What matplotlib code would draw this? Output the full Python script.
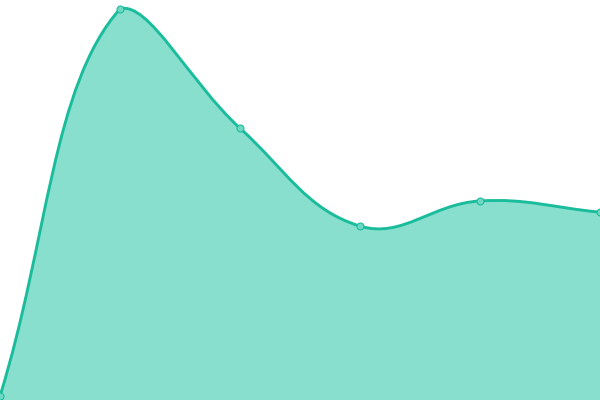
# Smooth turquoise area chart, no axes
import numpy as np
import matplotlib.pyplot as plt
from matplotlib.path import Path
from matplotlib.patches import PathPatch

labels = ['A', 'B', 'C', 'D', 'E', 'F']
values = [0, 100, 69.2, 43.9, 50.4, 47.5]

line_col = '#1abc9c'
fill_col = '#88dfce'
tension = 0.4

fig = plt.figure(figsize=(6, 4), dpi=100)
ax = fig.add_axes([0, 0, 1, 1])
ax.set_xlim(0, len(values) - 1)
ax.set_ylim(-4 * 100 / 387, 100 + 9 * 100 / 387)
ax.axis('off')

# spline control points (chart.js style), worked out in pixel space
pts = ax.transData.transform(np.column_stack([np.arange(len(values)), values]))
x0, y0 = ax.transData.transform((0, ax.get_ylim()[0]))
x1, y1 = ax.transData.transform((len(values) - 1, ax.get_ylim()[1]))
cps = []
for i in range(len(pts)):
    prev = pts[i - 1] if i > 0 else pts[i]
    cur = pts[i]
    nxt = pts[i + 1] if i < len(pts) - 1 else pts[i]
    d01 = np.hypot(*(cur - prev))
    d12 = np.hypot(*(nxt - cur))
    tot = d01 + d12
    s01 = d01 / tot if tot else 0
    s12 = d12 / tot if tot else 0
    cp_prev = cur - tension * s01 * (nxt - prev)
    cp_next = cur + tension * s12 * (nxt - prev)
    cp_prev = np.clip(cp_prev, [x0, y0], [x1, y1])
    cp_next = np.clip(cp_next, [x0, y0], [x1, y1])
    cps.append((cp_prev, cp_next))

verts = [pts[0]]
codes = [Path.MOVETO]
for i in range(1, len(pts)):
    verts += [cps[i - 1][1], cps[i][0], pts[i]]
    codes += [Path.CURVE4] * 3
verts = np.array(verts)

inv = ax.transData.inverted()
curve = Path(inv.transform(verts), codes)

base = ax.get_ylim()[0]
fill_verts = list(curve.vertices) + [(len(values) - 1, base), (0, base), (0, values[0])]
fill_codes = list(curve.codes) + [Path.LINETO, Path.LINETO, Path.CLOSEPOLY]
ax.add_patch(PathPatch(Path(fill_verts, fill_codes), facecolor=fill_col, edgecolor='none', zorder=1))
ax.add_patch(PathPatch(curve, facecolor='none', edgecolor=line_col, linewidth=2.1, zorder=2))

ax.plot(range(len(values)), values, 'o', ms=5, mfc='#6fd8c3', mec=line_col, mew=0.8, zorder=3, clip_on=False)

fig.savefig('out.png', dpi=100)
